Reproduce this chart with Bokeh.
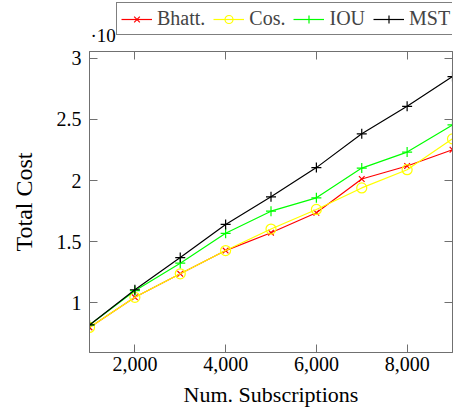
from bokeh.plotting import figure
from bokeh.models import (Legend, LegendItem, LinearAxis, FixedTicker, NumeralTickFormatter,
                          Range1d, Label, CustomJSTickFormatter, Column)
from bokeh.embed import file_html
from bokeh.resources import INLINE

# ---- data (values in units of 10^5 as on the axis) ----
subscriptions = [1000, 2000, 3000, 4000, 5000, 6000, 7000, 8000, 9000]
bhatt = [0.80, 1.046, 1.238, 1.428, 1.574, 1.737, 2.013, 2.119, 2.252]
cos = [0.80, 1.046, 1.238, 1.428, 1.604, 1.764, 1.940, 2.089, 2.341]
iou = [0.82, 1.100, 1.325, 1.569, 1.750, 1.859, 2.102, 2.233, 2.455]
mst = [0.82, 1.108, 1.371, 1.642, 1.867, 2.106, 2.382, 2.607, 2.850]

names = ["Bhatt.", "Cos.", "IOU", "MST"]
x_ticks = [2000, 4000, 6000, 8000]
y_ticks = [1, 1.5, 2, 2.5, 3]

FONT = "Liberation Serif"
AXC = "#707070"
styles = [("#ff0000", "x", 8), ("#ffff00", "circle", 10), ("#00ff00", "cross", 10), ("#000000", "cross", 10)]
series = [bhatt, cos, iou, mst]

# ---------------- main plot ----------------
p = figure(width=453, height=365, output_backend="svg", toolbar_location=None,
           x_range=Range1d(1000, 9000), y_range=Range1d(0.595, 3.055),
           min_border_left=89, min_border_right=1, min_border_top=5, min_border_bottom=59,
           x_axis_label="Num. Subscriptions", y_axis_label="Total Cost")
p.xgrid.visible = False
p.ygrid.visible = False
p.outline_line_color = AXC
p.background_fill_color = "white"
p.border_fill_color = "white"

def style_axis(ax, ticks):
    ax.ticker = FixedTicker(ticks=ticks)
    ax.major_tick_in = 8
    ax.major_tick_out = 0
    ax.minor_tick_line_color = None
    ax.axis_line_color = AXC
    ax.major_tick_line_color = AXC
    ax.major_label_text_font = FONT
    ax.major_label_text_font_size = "20px"
    ax.major_label_text_color = "black"
    ax.axis_label_text_font = FONT
    ax.axis_label_text_font_size = "22px"
    ax.axis_label_text_font_style = "normal"
    ax.axis_label_text_color = "black"

style_axis(p.xaxis[0], x_ticks)
style_axis(p.yaxis[0], y_ticks)
p.xaxis[0].formatter = NumeralTickFormatter(format="0,0")
p.yaxis[0].formatter = NumeralTickFormatter(format="0.[0]")
p.xaxis[0].major_label_standoff = 4
p.xaxis[0].axis_label_standoff = 8
p.yaxis[0].major_label_standoff = 8
p.yaxis[0].axis_label_standoff = 17
p.yaxis[0].axis_label_text_font_size = "24px"

# mirrored ticks on top and right
top = LinearAxis(formatter=CustomJSTickFormatter(code="return ''"), major_label_standoff=0)
style_axis(top, x_ticks)
top.major_label_text_font_size = "0px"
p.add_layout(top, "above")
right = LinearAxis(formatter=CustomJSTickFormatter(code="return ''"), major_label_standoff=0)
style_axis(right, y_ticks)
right.major_label_text_font_size = "0px"
p.add_layout(right, "right")

for vals, (color, marker, size) in zip(series, styles):
    p.line(subscriptions, vals, line_color=color, line_width=1.2)
    p.scatter(subscriptions, vals, marker=marker, size=size, line_color=color,
              fill_color=None, line_width=1.2)

# ---------------- header strip: exponent and legend ----------------
# (its frame is aligned with the main frame by the column layout; the series
#  lie outside its y range, so only their legend samples are visible)
h = figure(width=453, height=46, output_backend="svg", toolbar_location=None,
           x_axis_type=None, y_axis_type=None,
           x_range=Range1d(1000, 9000), y_range=Range1d(10, 11), min_border=0)
h.xgrid.visible = False
h.ygrid.visible = False
h.outline_line_color = None
h.background_fill_color = "white"
h.border_fill_color = "white"

items = []
for name, vals, (color, marker, size) in zip(names, series, styles):
    r1 = h.line(subscriptions, vals, line_color=color, line_width=1.2)
    r2 = h.scatter(subscriptions, vals, marker=marker, size=size, line_color=color,
                   fill_color=None, line_width=1.2)
    items.append(LegendItem(label=name, renderers=[r1, r2]))

h.add_layout(Label(x=1, y=21.2, x_units="screen", y_units="screen", text="·10",
                   text_font=FONT, text_font_size="19px", text_baseline="top",
                   text_color="black"))

legend = Legend(items=items, location=(27, 11), orientation="horizontal",
                margin=0, padding=4, spacing=8, glyph_width=31, glyph_height=20,
                label_height=20, label_standoff=5,
                label_text_font=FONT, label_text_font_size="20px",
                border_line_color="black", border_line_width=1,
                background_fill_color="white", background_fill_alpha=1.0)
h.add_layout(legend, "center")

layout = Column(h, p, spacing=0)
open("out.html", "w").write(file_html(layout, INLINE))
